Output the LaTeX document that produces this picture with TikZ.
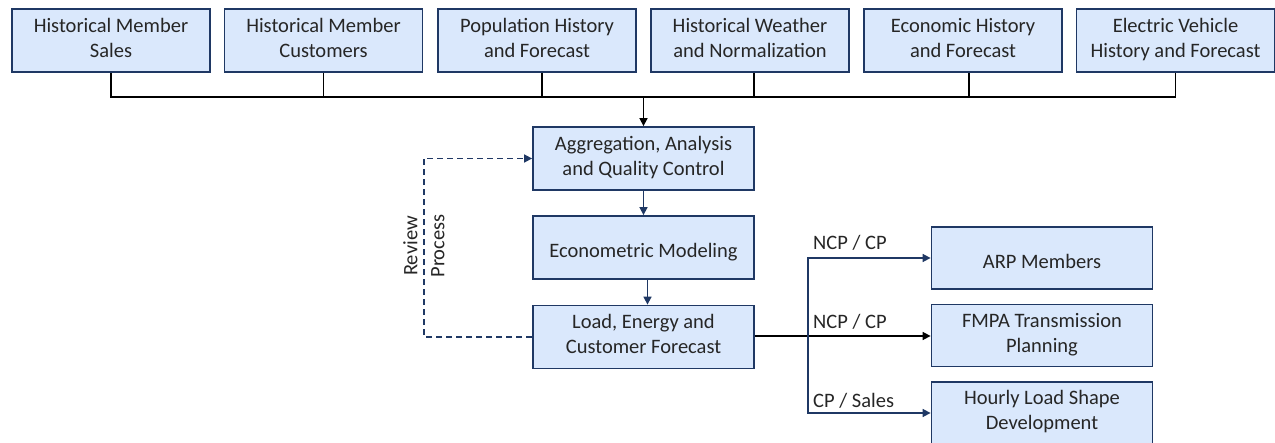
\documentclass[tikz,border=0pt]{standalone}
\usepackage{fontspec}
\setmainfont{Carlito}
\usetikzlibrary{arrows.meta}
\definecolor{boxfill}{HTML}{DAE8FC}
\definecolor{navy}{HTML}{1F3864}
\newcommand{\topstrut}{\rule{0pt}{27pt}}
\newcommand{\onestrut}{\rule{0pt}{19pt}}
\newcommand{\botstrut}{\rule[-6pt]{0pt}{6pt}}
\begin{document}
\begin{tikzpicture}[x=1pt,y=-1pt,
  box/.style={draw=navy, line width=1.8pt, fill=boxfill, minimum width=198pt, minimum height=63pt,
    inner sep=0pt, align=center, font=\fontsize{20.5}{25}\selectfont, text=black!85,
    execute at begin node={\topstrut}, execute at end node={\botstrut}},
  single/.style={execute at begin node={\onestrut}},
  midbox/.style={box, minimum width=221pt},
  outbox/.style={box, minimum width=221pt, minimum height=62pt},
  blk/.style={line width=1.6pt, black},
  nav/.style={line width=1.6pt, navy},
  tip/.style={-{Triangle[length=8pt,width=8pt]}},
  lbl/.style={font=\fontsize{20.5}{25}\selectfont, text=black!85, inner sep=0pt}]
\useasboundingbox (0,0) rectangle (1275,443);
% top inputs
\node[box] (b1) at (111,40.5) {Historical Member\\Sales};
\node[box] (b2) at (323.5,40.5) {Historical Member\\Customers};
\node[box] (b3) at (537,40.5) {Population History\\and Forecast};
\node[box] (b4) at (750,40.5) {Historical Weather\\and Normalization};
\node[box] (b5) at (963,40.5) {Economic History\\and Forecast};
\node[box] (b6) at (1175.5,40.5) {Electric Vehicle\\History and Forecast};
% central chain
\node[midbox] (agg) at (643.5,158.5) {Aggregation, Analysis\\and Quality Control};
\node[midbox,single] (eco) at (643.5,247.5) {Econometric Modeling};
\node[midbox] (load) at (643.5,337) {Load, Energy and\\Customer Forecast};
% outputs
\node[outbox,single] (arp) at (1042,258) {ARP Members};
\node[outbox] (fmpa) at (1042,335.5) {FMPA Transmission\\Planning};
\node[outbox] (hour) at (1042,413) {Hourly Load Shape\\Development};
% bus
\coordinate (bus) at (0,97);
\draw[blk] (b1.south) |- (bus -| b6.south) -- (b6.south);
\draw[blk] (b2.south) -- (b2.south |- bus);
\draw[blk] ([xshift=5pt]b3.south) -- ([xshift=5pt]b3.south |- bus);
\draw[blk] ([xshift=4pt]b4.south) -- ([xshift=4pt]b4.south |- bus);
\draw[blk] ([xshift=6pt]b5.south) -- ([xshift=6pt]b5.south |- bus);
\draw[blk,tip] (bus -| agg.north) -- (agg.north);
% chain arrows
\draw[nav,tip] (agg.south) -- (eco.north);
\draw[nav,tip] ([xshift=4pt]eco.south) -- ([xshift=4pt]eco.south |- load.north);
% review loop
\coordinate (rv) at (424,0);
\draw[nav,dashed,dash pattern=on 6pt off 4pt,tip] (load.west) -| (rv |- agg.west) -- (agg.west);
\node[lbl, rotate=90, align=center, font=\fontsize{20.5}{27}\selectfont] (rvl) at (424,246) {Review\\Process};
% outputs arrows
\coordinate (br) at (808,336);
\draw[blk,tip] (load.east |- br) -- (fmpa.west |- br);
\draw[nav,tip] (br) |- (arp.west);
\draw[nav,tip] (br) |- (hour.west);
\node[lbl, anchor=west] (l1) at (813,243) {NCP / CP};
\node[lbl, anchor=west] (l2) at (813,322) {NCP / CP};
\node[lbl, anchor=west] (l3) at (813,401) {CP / Sales};
\end{tikzpicture}
\end{document}
